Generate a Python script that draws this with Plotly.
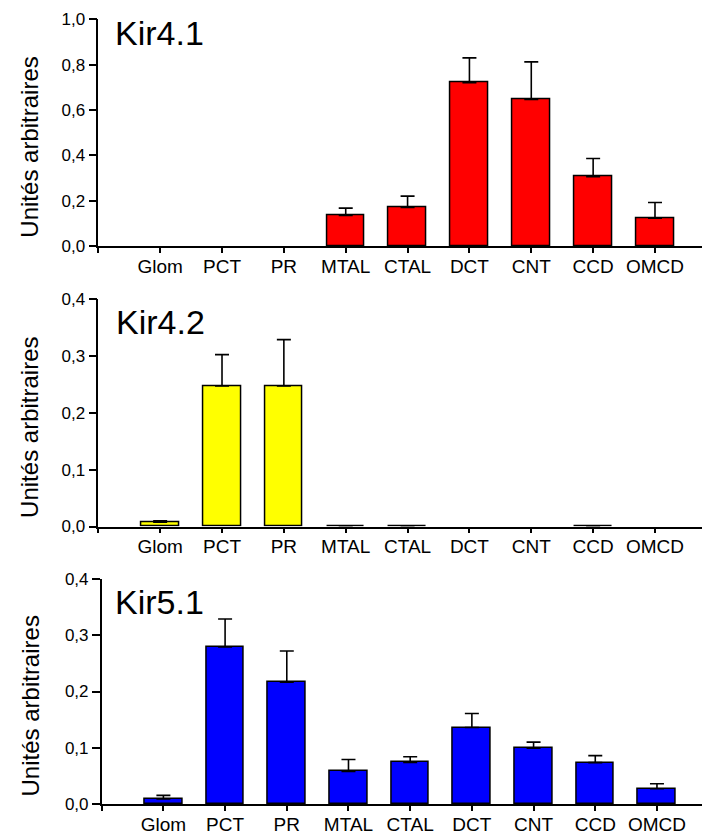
import plotly.graph_objects as go

categories = ["Glom", "PCT", "PR", "MTAL", "CTAL", "DCT", "CNT", "CCD", "OMCD"]

kir41_values = [0, 0, 0, 0.135, 0.170, 0.720, 0.647, 0.306, 0.123]
kir41_errors = [0, 0, 0, 0.032, 0.050, 0.110, 0.165, 0.080, 0.069]

kir42_values = [0.0076, 0.2475, 0.2475, 0.001, 0.001, 0, 0, 0.001, 0]
kir42_errors = [0.0024, 0.0551, 0.0815, 0, 0, 0, 0, 0, 0]

kir51_values = [0.0088, 0.279, 0.2165, 0.058, 0.074, 0.136, 0.0994, 0.0735, 0.027]
kir51_errors = [0.0065, 0.050, 0.0555, 0.021, 0.010, 0.025, 0.0106, 0.0125, 0.009]

panel_titles = ["Kir4.1", "Kir4.2", "Kir5.1"]
y_title = "Unités arbitraires"

y1_tickvals = [0, 0.2, 0.4, 0.6, 0.8, 1.0]
y1_ticktext = ["0,0", "0,2", "0,4", "0,6", "0,8", "1,0"]
y23_tickvals = [0, 0.1, 0.2, 0.3, 0.4]
y23_ticktext = ["0,0", "0,1", "0,2", "0,3", "0,4"]

W, H = 704, 834
FONT = "Liberation Sans, Arial, sans-serif"

# panel geometry in pixels (top, bottom of plot area; left, right of axis)
panels = [
    dict(vals=kir41_values, errs=kir41_errors, color="#FF0000", top=19.3, bot=246.0,
         left=98.3, right=702, rng=[-1, 8.76], ymax=1.0, tv=y1_tickvals, tt=y1_ticktext),
    dict(vals=kir42_values, errs=kir42_errors, color="#FFFF00", top=299.3, bot=526.5,
         left=98.3, right=702, rng=[-1, 8.76], ymax=0.4, tv=y23_tickvals, tt=y23_ticktext),
    dict(vals=kir51_values, errs=kir51_errors, color="#0000FF", top=579.0, bot=804.0,
         left=101.7, right=702, rng=[-1, 8.73], ymax=0.4, tv=y23_tickvals, tt=y23_ticktext),
]
title_pos = [(113, 33), (114, 322), (113, 602)]

fig = go.Figure()
xs = list(range(len(categories)))
for i, p in enumerate(panels):
    n = "" if i == 0 else str(i + 1)
    # only bars with a measurable (non-zero) value are drawn
    keep = [k for k, v in enumerate(p["vals"]) if v > 0]
    bx = [xs[k] for k in keep]
    by = [p["vals"][k] for k in keep]
    be = [p["errs"][k] if p["errs"][k] > 0 else None for k in keep]
    fig.add_trace(go.Bar(
        x=bx, y=by, width=0.61,
        marker=dict(color=p["color"], line=dict(color="black", width=1.5)),
        error_y=dict(type="data", symmetric=False, array=be,
                     arrayminus=[0] * len(keep), color="black",
                     thickness=1.6, width=7),
        xaxis="x" + n, yaxis="y" + n, showlegend=False,
    ))
    fig.layout["xaxis" + n] = dict(
        domain=[p["left"] / W, p["right"] / W], range=p["rng"],
        anchor="y" + n, tickmode="array", tickvals=[-1] + xs,
        ticktext=[""] + categories, ticks="outside", ticklen=5, tickwidth=1.5,
        tickcolor="black", showline=True, linecolor="black", linewidth=1.5,
        showgrid=False, zeroline=False, automargin=False, ticklabelstandoff=-3,
        tickfont=dict(family=FONT, size=19, color="black"),
    )
    fig.layout["yaxis" + n] = dict(
        domain=[1 - p["bot"] / H, 1 - p["top"] / H], range=[0, p["ymax"]],
        anchor="x" + n, tickmode="array", tickvals=p["tv"], ticktext=p["tt"],
        ticks="outside", ticklen=8, tickwidth=1.5, tickcolor="black",
        showline=True, linecolor="black", linewidth=1.5,
        showgrid=False, zeroline=False, automargin=False,
        tickfont=dict(family=FONT, size=17, color="black"),
    )
    tx, ty = title_pos[i]
    fig.add_annotation(x=tx / W, y=1 - ty / H, xref="paper", yref="paper",
                       text=panel_titles[i], showarrow=False, xanchor="left",
                       yanchor="middle",
                       font=dict(family=FONT, size=34, color="black"))
    fig.add_annotation(x=30 / W, y=1 - ((p["top"] + p["bot"]) / 2 + 15) / H,
                       xref="paper", yref="paper", text=y_title, textangle=-90,
                       showarrow=False, xanchor="center", yanchor="middle",
                       font=dict(family=FONT, size=24, color="black"))

fig.update_layout(
    width=W, height=H, margin=dict(l=0, r=0, t=0, b=0),
    paper_bgcolor="white", plot_bgcolor="white", bargap=0,
    template="none",
)
fig.write_html("out.html")
